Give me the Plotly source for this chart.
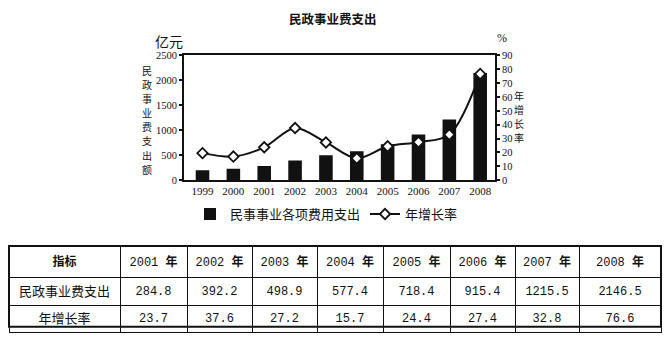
import plotly.graph_objects as go

W, H = 670, 342

years = ["1999", "2000", "2001", "2002", "2003", "2004", "2005", "2006", "2007", "2008"]
spending = [197, 230, 284.8, 392.2, 498.9, 577.4, 718.4, 915.4, 1215.5, 2146.5]
growth = [19.5, 17.0, 23.7, 37.6, 27.2, 15.7, 24.4, 27.4, 32.8, 76.6]

title_text = "民政事业费支出"
left_unit = "亿元"
right_unit = "%"
left_title = "民政事业费支出额"
right_title = "年增长率"
bar_name = "民事事业各项费用支出"
line_name = "年增长率"

table_years = ["2001", "2002", "2003", "2004", "2005", "2006", "2007", "2008"]
table_spending = [284.8, 392.2, 498.9, 577.4, 718.4, 915.4, 1215.5, 2146.5]
table_growth = [23.7, 37.6, 27.2, 15.7, 24.4, 27.4, 32.8, 76.6]
row_labels = ["民政事业费支出", "年增长率"]
header_first = "指标"

SERIF = "Liberation Serif, Noto Sans CJK SC, serif"
CJK = "Noto Sans CJK SC, sans-serif"
MONO = "Liberation Mono, Noto Sans CJK SC, monospace"

def px_x(x):
    return x / W

def px_y(y):
    return 1 - y / H

fig = go.Figure()

fig.add_trace(go.Bar(
    x=years, y=spending, name=bar_name, width=0.44,
    marker=dict(color="#111111", line=dict(width=0)),
    xaxis="x", yaxis="y",
))
fig.add_trace(go.Scatter(
    x=years, y=growth, name=line_name, mode="lines+markers",
    line=dict(color="#111111", width=2, shape="spline", smoothing=0.9),
    marker=dict(symbol="diamond", size=8, color="white", line=dict(color="#111111", width=1.8)),
    xaxis="x", yaxis="y2",
))

# Table
NBSP = "\u00a0"
header_vals = ["<b>" + header_first + "</b>"] + [y + NBSP + "<b>年</b>" for y in table_years]
cell_vals = [row_labels] + [[f"{s:.1f}", f"{g:.1f}"] for s, g in zip(table_spending, table_growth)]
col_widths = [111, 67, 65, 65, 66, 67, 65, 64, 82]

fig.add_trace(go.Table(
    domain=dict(x=[px_x(9), px_x(661)], y=[px_y(340), px_y(249)]),
    columnwidth=col_widths,
    header=dict(values=header_vals, height=28, align="center",
                line=dict(color="#111111", width=1), fill=dict(color="white"),
                font=dict(family=MONO, size=12, color="#111111")),
    cells=dict(values=cell_vals, height=27.5, align="center",
               line=dict(color="#111111", width=1), fill=dict(color="white"),
               font=dict(family=[CJK] + [MONO] * 8, size=[13] + [12] * 8, color="#111111")),
))

x0, x1 = px_x(184), px_x(495)
y0, y1 = px_y(181), px_y(52)

fig.update_layout(
    width=W, height=H,
    margin=dict(l=0, r=0, t=0, b=0),
    paper_bgcolor="white", plot_bgcolor="white",
    showlegend=True,
    legend=dict(orientation="h", x=px_x(190), y=px_y(216), xanchor="left", yanchor="middle",
                font=dict(family=CJK, size=13, color="#111111"),
                itemwidth=30, tracegroupgap=0, bgcolor="rgba(0,0,0,0)"),
    xaxis=dict(domain=[x0, x1], range=[-0.6, 9.48], type="category",
               showline=True, linecolor="#111111", linewidth=2, mirror=True,
               ticks="", showgrid=False,
               tickfont=dict(family=SERIF, size=11, color="#111111")),
    yaxis=dict(domain=[y0, y1], range=[0, 2500], dtick=500,
               showline=True, linecolor="#111111", linewidth=2,
               ticks="outside", ticklen=3, tickwidth=1.5, tickcolor="#111111",
               ticklabelstandoff=0,
               showgrid=False, zeroline=False,
               tickfont=dict(family=SERIF, size=10.5, color="#111111")),
    yaxis2=dict(overlaying="y", side="right", anchor="x", range=[0, 90], dtick=10,
                showline=True, linecolor="#111111", linewidth=2,
                ticks="outside", ticklen=3, tickwidth=1.5, tickcolor="#111111",
                ticklabelstandoff=0,
                showgrid=False, zeroline=False,
                tickfont=dict(family=SERIF, size=10.5, color="#111111")),
    shapes=[dict(type="rect", xref="paper", yref="paper",
                 x0=px_x(9), x1=px_x(661), y0=px_y(332.5), y1=px_y(249),
                 line=dict(color="#111111", width=2), fillcolor="rgba(0,0,0,0)")],
)

annotations = [
    dict(text="<b>" + title_text + "</b>", x=px_x(333), y=px_y(14),
         font=dict(family=CJK, size=12.5, color="#111111")),
    dict(text=left_unit, x=px_x(169), y=px_y(37), font=dict(family=CJK, size=14, color="#111111")),
    dict(text=right_unit, x=px_x(502), y=px_y(34), font=dict(family=SERIF, size=12, color="#111111")),
]
PITCH = 14.5
for i, ch in enumerate(left_title):
    annotations.append(dict(text=ch, x=px_x(147), y=px_y(68 + i * PITCH),
                            font=dict(family=CJK, size=10, color="#111111")))
for i, ch in enumerate(right_title):
    annotations.append(dict(text=ch, x=px_x(519), y=px_y(93 + i * PITCH),
                            font=dict(family=CJK, size=10, color="#111111")))
for a in annotations:
    a.update(xref="paper", yref="paper", showarrow=False, xanchor="center", yanchor="middle",
             borderpad=0)
fig.update_layout(annotations=annotations)

fig.write_html("out.html")
